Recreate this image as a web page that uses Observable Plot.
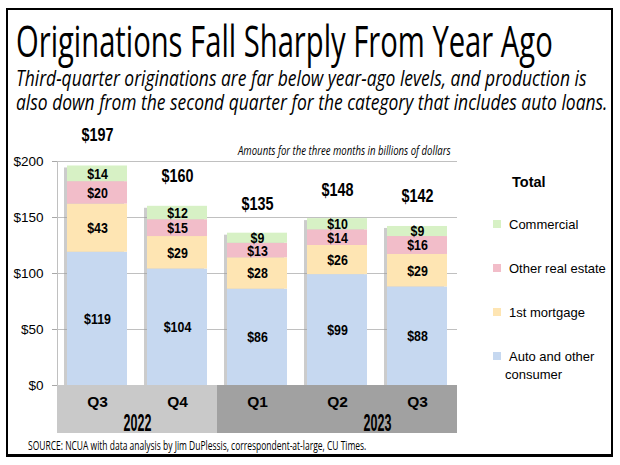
<!DOCTYPE html>
<html>
<head>
<meta charset="utf-8">
<script src="https://cdn.jsdelivr.net/npm/d3@7"></script>
<script src="https://cdn.jsdelivr.net/npm/@observablehq/plot@0.6"></script>
<style>
  body { margin: 0; background: #fff; }
  #wrap { position: relative; width: 620px; height: 465px; overflow: hidden; background: #fff;
          font-family: "Liberation Sans", Arial, sans-serif; }
  #frame { position: absolute; left: 6px; top: 8px; width: 603px; height: 444px;
           border: 2px solid #000; border-bottom-width: 3px; }
  #chart { position: absolute; left: 0; top: 0; }
  #overlay { position: absolute; left: 0; top: 0; }
  .cond { font-family: "Open Sans", sans-serif; }
</style>
</head>
<body>
<div id="wrap">
  <div id="frame"></div>
  <div id="chart"></div>
  <svg id="overlay" width="620" height="465" xmlns="http://www.w3.org/2000/svg">
    <text class="cond fit" data-x="16" data-y="57" data-w="537" font-size="44">Originations Fall Sharply From Year Ago</text>
    <text class="cond fit" data-x="16" data-y="86" data-w="571" font-size="21" font-style="italic">Third-quarter originations are far below year-ago levels, and production is</text>
    <text class="cond fit" data-x="16" data-y="110" data-w="592" font-size="21" font-style="italic">also down from the second quarter for the category that includes auto loans.</text>
    <text class="cond fit" data-x="238" data-y="155" data-w="213" font-size="12.5" font-style="italic">Amounts for the three months in billions of dollars</text>
    <text class="cond fit" data-x="28" data-y="450" data-w="339" font-size="12">SOURCE: NCUA with data analysis by Jim DuPlessis, correspondent-at-large, CU Times.</text>
    <g id="legend"></g>
  </svg>
</div>
<script>
// ---- data ----
const quarters = ["Q3", "Q4", "Q1", "Q2", "Q3"];
const years = ["2022", "2022", "2023", "2023", "2023"];
const series = ["Auto and other consumer", "1st mortgage", "Other real estate", "Commercial"];
const seriesColors = ["#C6D8F0", "#FEE5B3", "#F2BDC9", "#D7F1C5"];
const autoConsumer = [119, 104, 86, 99, 88];
const firstMortgage = [43, 29, 28, 26, 29];
const otherRealEstate = [20, 15, 13, 14, 16];
const commercial = [14, 12, 9, 10, 9];
const totals = [197, 160, 135, 148, 142];
const yTicks = [0, 50, 100, 150, 200];
const yearColors = {"2022": "#C9C9C9", "2023": "#A1A1A1"};

// ---- tables ----
const seriesValues = [autoConsumer, firstMortgage, otherRealEstate, commercial];
const keyRows = quarters.map((q, i) => ({
  key: years[i] + " " + q, quarter: q, year: years[i], total: totals[i],
  sum: seriesValues.reduce((s, arr) => s + arr[i], 0)
}));
const rows = [];
series.forEach((s, j) => keyRows.forEach((k, i) => rows.push({key: k.key, series: s, value: seriesValues[j][i]})));
const yearRows = Array.from(new Set(years)).map(y => ({year: y, key: keyRows.filter(r => r.year === y).at(-1).key}));

const chart = Plot.plot({
  width: 620, height: 465,
  marginLeft: 57, marginRight: 163, marginTop: 161, marginBottom: 80,
  style: {background: "transparent", fontFamily: "'Liberation Sans', Arial, sans-serif", color: "#000"},
  x: {domain: keyRows.map(d => d.key), paddingInner: 0.25, paddingOuter: 0.125, axis: null},
  y: {domain: [0, 200], axis: null},
  color: {domain: series, range: seriesColors},
  marks: [
    Plot.gridY(yTicks.filter(d => d > 0), {stroke: "#C0C0C0", strokeOpacity: 1}),
    (index, scales, values, dims) => {
      const l = document.createElementNS("http://www.w3.org/2000/svg", "line");
      l.setAttribute("x1", dims.marginLeft + 0.5); l.setAttribute("x2", dims.marginLeft + 0.5);
      l.setAttribute("y1", dims.marginTop); l.setAttribute("y2", dims.height - dims.marginBottom);
      l.setAttribute("stroke", "#C0C0C0");
      return l;
    },
    Plot.axisY(yTicks, {tickSize: 5, tickPadding: 9, fontSize: 13.5, tickFormat: d => "$" + d, stroke: "#A8A8A8", fill: "#000"}),
    Plot.barY(keyRows, {x: "key", y: "sum", fill: "#9a9a9a", fillOpacity: 0.5, dx: -3, dy: 2}),
    Plot.barY(rows, Plot.stackY({x: "key", y: "value", fill: "series", order: series})),
    Plot.barY(keyRows, {x: "key", y1: 0, y2: 0, fill: d => yearColors[d.year], insetLeft: -10, insetRight: -10, insetBottom: -48}),
    Plot.text(rows, Plot.stackY({x: "key", y: "value", order: series, z: "series", text: d => "$" + d.value,
      fontWeight: "bold", fontSize: 15.5, fill: "#000"})),
    Plot.text(keyRows, {x: "key", y: "total", text: d => "$" + d.total, dy: -30,
      fontWeight: "bold", fontSize: 18, fill: "#000"}),
    Plot.text(keyRows, {x: "key", frameAnchor: "bottom", lineAnchor: "middle", dy: 17, text: "quarter",
      fontWeight: "bold", fontSize: 15.5, fill: "#000"}),
    Plot.text(yearRows, {x: "key", frameAnchor: "bottom", lineAnchor: "middle", dx: -40, dy: 38, text: "year",
      fontSize: 24, fill: "#000"})
  ]
});
document.getElementById("chart").appendChild(chart);

// narrow the bold value labels (Arial Narrow look)
d3.select(chart).selectAll('g[aria-label="text"] text')
  .filter(function() { return this.textContent.startsWith("$"); })
  .each(function() {
    const w = this.getComputedTextLength();
    this.setAttribute("textLength", (w * 0.8).toFixed(1));
    this.setAttribute("lengthAdjust", "spacingAndGlyphs");
  });
// condensed year labels
d3.select(chart).selectAll('g[aria-label="text"] text')
  .filter(function() { return years.includes(this.textContent); })
  .attr("font-weight", "bold")
  .each(function() {
    const w = this.getComputedTextLength();
    this.setAttribute("textLength", (w * 0.52).toFixed(1));
    this.setAttribute("lengthAdjust", "spacingAndGlyphs");
  });

// fit the condensed header / note / source texts to their widths
document.querySelectorAll("#overlay text.fit").forEach(el => {
  const w = el.getComputedTextLength();
  const s = (+el.dataset.w) / w;
  el.setAttribute("transform", `translate(${el.dataset.x},${el.dataset.y}) scale(${s.toFixed(4)},1)`);
});

// ---- legend ----
const legend = d3.select("#legend");
legend.append("text").attr("x", 512).attr("y", 187).attr("font-size", 14.5).attr("font-weight", "bold").text("Total");
const legendOrder = series.map((s, j) => ({s, c: seriesColors[j]})).reverse();
legendOrder.forEach((d, k) => {
  const cy = 224 + k * 44;
  legend.append("rect").attr("x", 493).attr("y", cy - 4).attr("width", 8).attr("height", 8).attr("fill", d.c);
  const words = d.s.split(" ");
  if (d.s.length > 18) {
    legend.append("text").attr("x", 509).attr("y", cy + 5).attr("font-size", 13).text(words.slice(0, 3).join(" "));
    legend.append("text").attr("x", 505).attr("y", cy + 23).attr("font-size", 13).text(words.slice(3).join(" "));
  } else {
    legend.append("text").attr("x", 509).attr("y", cy + 5).attr("font-size", 13).text(d.s);
  }
});
</script>
</body>
</html>
